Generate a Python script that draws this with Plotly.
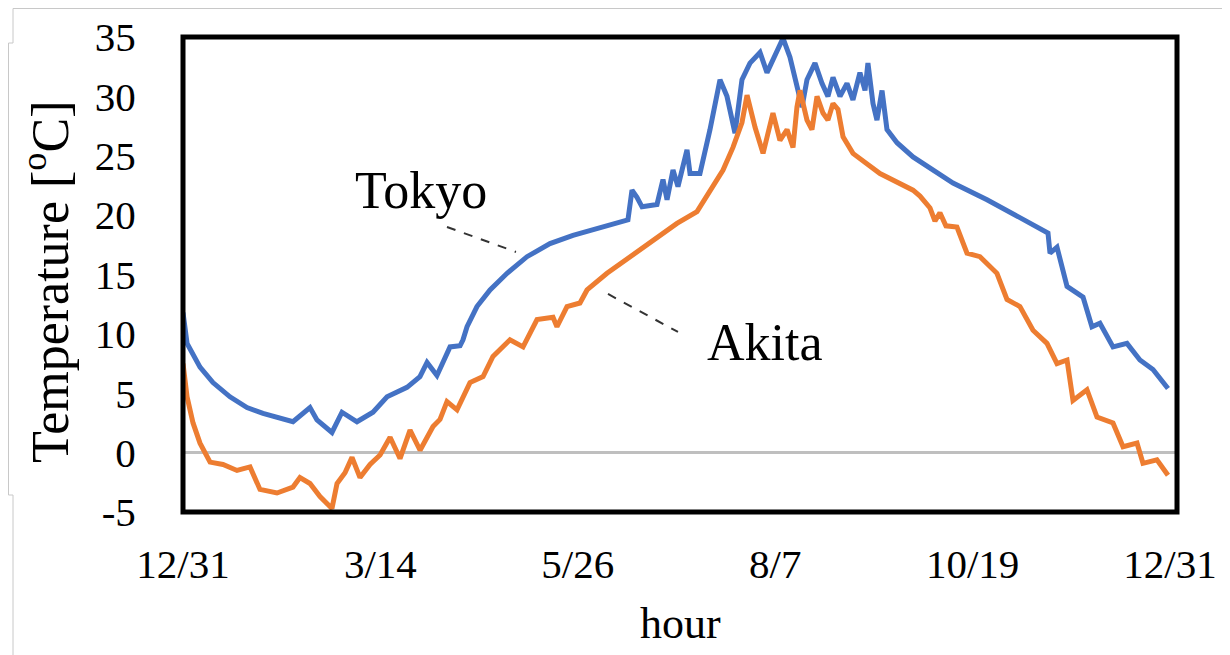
import plotly.graph_objects as go

# hours from 12/31 00:00, hourly air temperature
tokyo_hours = [
    0, 36, 151, 266, 417, 568, 710, 861, 976, 1127, 1189, 1322, 1411, 1544,
    1686, 1811, 1988, 2103, 2166, 2254, 2370, 2459, 2485, 2521, 2609, 2725,
    2876, 3053, 3257, 3461, 3674, 3878, 3949, 3985, 4029, 4074, 4207, 4260,
    4296, 4349, 4393, 4473, 4500, 4588, 4677, 4766, 4828, 4899, 4961, 5032,
    5121, 5183, 5272, 5325, 5387, 5432, 5494, 5538, 5609, 5671, 5724, 5769,
    5831, 5893, 5946, 6008, 6053, 6079, 6124, 6159, 6204, 6248, 6337, 6479,
    6718, 6834, 7136, 7428, 7677, 7695, 7757, 7846, 7988, 8067, 8138, 8254,
    8378, 8493, 8609, 8742,
]
tokyo_temp = [
    11.8, 9.2, 7.2, 5.9, 4.7, 3.8, 3.3, 2.9, 2.6, 3.8, 2.75, 1.7, 3.4, 2.6,
    3.4, 4.7, 5.5, 6.4, 7.6, 6.5, 8.9, 9.0, 9.5, 10.6, 12.3, 13.7,
    15.1, 16.5, 17.6, 18.3, 18.9, 19.4, 19.6, 22.1, 21.5, 20.7, 20.9, 23.0,
    21.3, 23.8, 22.4, 25.5, 23.5, 23.5, 27.2, 31.4, 30.0, 26.9, 31.4, 32.8,
    33.7, 32.0, 33.9, 34.9, 33.3, 31.6, 29.1, 31.4, 32.8, 31.1, 30.0, 31.6,
    30.0, 31.1, 29.7, 32.0, 30.5, 32.8, 29.4, 28.0, 30.5, 27.2, 26.1, 24.9,
    23.4, 22.7, 21.3, 19.8, 18.5, 16.8, 17.3, 14.0, 13.1, 10.6, 10.9, 8.9,
    9.2, 7.8, 7.0, 5.4,
]

akita_hours = [
    0, 36, 89, 151, 240, 355, 479, 595, 683, 834, 976, 1038, 1127, 1216,
    1322, 1367, 1438, 1500, 1571, 1660, 1749, 1838, 1926, 2015, 2104, 2219,
    2281, 2343, 2432, 2547, 2663, 2751, 2902, 3018, 3142, 3284, 3319, 3408,
    3523, 3586, 3763, 3967, 4171, 4384, 4562, 4677, 4793, 4881, 4961, 5006,
    5077, 5148, 5236, 5298, 5361, 5414, 5449, 5476, 5538, 5582, 5627, 5680,
    5724, 5769, 5813, 5858, 5946, 6186, 6479, 6541, 6630, 6674, 6718, 6771,
    6869, 6958, 7073, 7224, 7313, 7428, 7544, 7668, 7757, 7846, 7899, 8023,
    8112, 8254, 8343, 8467, 8520, 8644, 8742,
]
akita_temp = [
    7.5, 4.7, 2.5, 0.8, -0.8, -1.0, -1.5, -1.2, -3.1, -3.4, -2.9, -2.1, -2.6, -3.7,
    -4.7, -2.6, -1.7, -0.4, -2.1, -1.0, -0.2, 1.3, -0.5, 1.9, 0.2, 2.2,
    2.8, 4.3, 3.6, 5.9, 6.4, 8.1, 9.5, 8.9, 11.2, 11.4, 10.6, 12.3,
    12.6, 13.7, 15.1, 16.5, 17.9, 19.3, 20.3, 22.1, 23.8, 25.7, 27.8, 30.1,
    27.4, 25.2, 28.6, 26.3, 27.2, 25.7, 29.1, 30.5, 28.0, 27.2, 30.0, 28.6,
    28.0, 29.4, 28.9, 26.6, 25.2, 23.5, 22.1, 21.6, 20.6, 19.5, 20.2, 19.1,
    19.0, 16.8, 16.5, 15.1, 12.9, 12.3, 10.3, 9.2, 7.5, 7.8, 4.4, 5.3,
    3.0, 2.5, 0.5, 0.8, -0.9, -0.6, -1.9,
]

tick_hours = [0, 1752, 3504, 5256, 7008, 8760]
tick_labels = ["12/31", "3/14", "5/26", "8/7", "10/19", "12/31"]
y_ticks = [-5, 0, 5, 10, 15, 20, 25, 30, 35]
y_tick_labels = ["-5", "0", "5", "10", "15", "20", "25", "30", "35"]

FONT = "Liberation Serif, Times New Roman, serif"
# the page body has an 8px margin, so the figure starts at (8, 8) on screen
OFF = 8
W, H = 1230 - OFF, 655 - OFF
L, R, T, B = 183 - OFF, 53, 37 - OFF, 143


def px(x):
    # screen pixel -> paper x
    return (x - OFF - L) / (W - L - R)


def py(y):
    # screen pixel -> paper y
    return (H - B - (y - OFF)) / (H - T - B)


fig = go.Figure()

fig.add_trace(
    go.Scatter(
        x=tokyo_hours,
        y=tokyo_temp,
        mode="lines",
        name="Tokyo",
        line=dict(color="#4472C4", width=5),
    )
)
fig.add_trace(
    go.Scatter(
        x=akita_hours,
        y=akita_temp,
        mode="lines",
        name="Akita",
        line=dict(color="#ED7D31", width=5),
    )
)

# leader lines for the series labels
fig.add_shape(type="line", xref="x", yref="y", x0=2343, y0=19.0, x1=2955, y1=16.9,
              line=dict(color="#333333", width=2, dash="dash"))
fig.add_shape(type="line", xref="x", yref="y", x0=3772, y0=13.36, x1=4393, y1=10.16,
              line=dict(color="#333333", width=2, dash="dash"))

fig.add_annotation(x=2112, y=22.1, xref="x", yref="y", text="Tokyo", showarrow=False,
                   xanchor="center", yanchor="middle",
                   font=dict(family=FONT, size=52, color="black"))
fig.add_annotation(x=5165, y=9.3, xref="x", yref="y", text="Akita", showarrow=False,
                   xanchor="center", yanchor="middle",
                   font=dict(family=FONT, size=52, color="black"))

# axis titles
fig.add_annotation(x=px(46), y=py(282), xref="paper", yref="paper",
                   text="Temperature [<sup>o</sup>C]", textangle=-90, showarrow=False,
                   xanchor="center", yanchor="middle",
                   font=dict(family=FONT, size=52, color="black"))
fig.add_annotation(x=px(680), y=py(623), xref="paper", yref="paper",
                   text="hour", showarrow=False,
                   xanchor="center", yanchor="middle",
                   font=dict(family=FONT, size=44, color="black"))

# black frame around plot area
fig.add_shape(type="rect", xref="paper", yref="paper", x0=0, y0=0, x1=1, y1=1,
              line=dict(color="black", width=5), layer="above")

# thin grey outline of the original chart box
grey = dict(color="#C8C8C8", width=1)
for (xa, ya, xb, yb) in [(13, 8.5, 1230, 8.5), (13, 8.5, 13, 43), (8.5, 43, 13, 43),
                         (8.5, 43, 8.5, 495), (8.5, 495, 13, 495), (13, 495, 13, 655)]:
    fig.add_shape(type="line", xref="paper", yref="paper",
                  x0=px(xa), y0=py(ya), x1=px(xb), y1=py(yb), line=grey)

fig.update_xaxes(
    range=[0, 8822],
    tickvals=tick_hours,
    ticktext=tick_labels,
    ticks="outside",
    ticklen=16,
    tickcolor="rgba(0,0,0,0)",
    showgrid=False,
    zeroline=False,
    showline=False,
    automargin=False,
    tickfont=dict(family=FONT, size=41, color="black"),
)
fig.update_yaxes(
    range=[-5, 35],
    tickvals=y_ticks,
    ticktext=y_tick_labels,
    ticks="outside",
    ticklen=38,
    tickcolor="rgba(0,0,0,0)",
    showgrid=False,
    zeroline=True,
    zerolinecolor="#BFBFBF",
    zerolinewidth=3,
    showline=False,
    automargin=False,
    tickfont=dict(family=FONT, size=41, color="black"),
)

fig.update_layout(
    width=W,
    height=H,
    margin=dict(l=L, r=R, t=T, b=B),
    plot_bgcolor="white",
    paper_bgcolor="white",
    showlegend=False,
)

fig.write_html("out.html")
